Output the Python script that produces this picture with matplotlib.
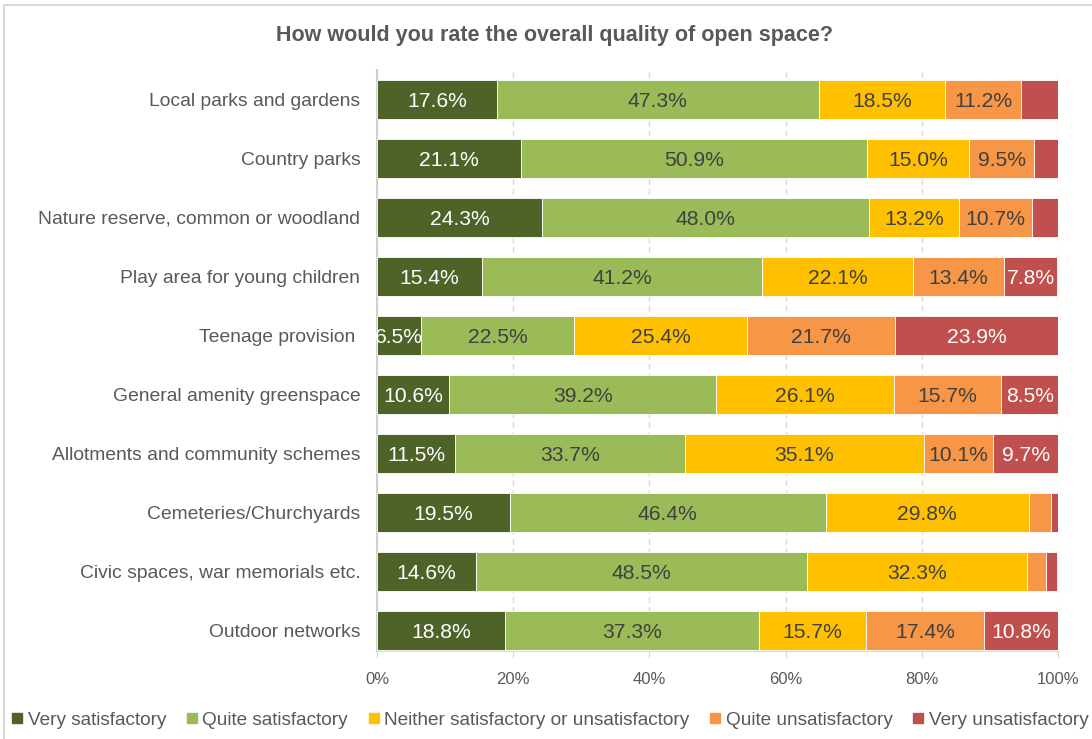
import matplotlib
matplotlib.use("Agg")
import matplotlib.pyplot as plt
from matplotlib.patches import Rectangle
from matplotlib.lines import Line2D
import numpy as np

plt.rcParams['font.family'] = ['Liberation Sans', 'DejaVu Sans']

categories = [
    "Local parks and gardens",
    "Country parks",
    "Nature reserve, common or woodland",
    "Play area for young children",
    "Teenage provision ",
    "General amenity greenspace",
    "Allotments and community schemes",
    "Cemeteries/Churchyards",
    "Civic spaces, war memorials etc.",
    "Outdoor networks",
]

series_names = [
    "Very satisfactory",
    "Quite satisfactory",
    "Neither satisfactory or unsatisfactory",
    "Quite unsatisfactory",
    "Very unsatisfactory",
]

very_satisfactory = [17.6, 21.1, 24.3, 15.4, 6.5, 10.6, 11.5, 19.5, 14.6, 18.8]
quite_satisfactory = [47.3, 50.9, 48.0, 41.2, 22.5, 39.2, 33.7, 46.4, 48.5, 37.3]
neither = [18.5, 15.0, 13.2, 22.1, 25.4, 26.1, 35.1, 29.8, 32.3, 15.7]
quite_unsatisfactory = [11.2, 9.5, 10.7, 13.4, 21.7, 15.7, 10.1, 3.3, 2.9, 17.4]
very_unsatisfactory = [5.4, 3.5, 3.8, 7.8, 23.9, 8.5, 9.7, 1.0, 1.5, 10.8]

series = [very_satisfactory, quite_satisfactory, neither,
          quite_unsatisfactory, very_unsatisfactory]
colors = ["#4f6228", "#9bbb59", "#ffc000", "#f79646", "#c0504d"]
label_colors = ["white", "#404040", "#404040", "#404040", "white"]

W, H = 1092, 739
fig = plt.figure(figsize=(W / 100, H / 100), dpi=100)

ax_top, ax_bot = 70, 651
ax = fig.add_axes([377 / W, 1 - ax_bot / H, (1058 - 377) / W, (ax_bot - ax_top) / H])

y = np.arange(len(categories))
left = np.zeros(len(categories))
for vals, col, tcol in zip(series, colors, label_colors):
    vals = np.array(vals)
    bars = ax.barh(y, vals, left=left, height=0.66, color=col,
                   edgecolor="white", linewidth=0.6, zorder=3)
    for b, v in zip(bars, vals):
        if v >= 6:
            ax.text(b.get_x() + b.get_width() / 2, b.get_y() + b.get_height() / 2,
                    f"{v:.1f}%", ha="center", va="center_baseline", color=tcol,
                    fontsize=15.2, zorder=4)
    left += vals

ax.set_xlim(0, 100)
ax.set_ylim(-0.5 + (ax_bot - ax_top) / 59.0, -0.5)
ax.set_yticks(y)
ax.set_yticklabels(categories, fontsize=13.9, color="#595959")
ax.tick_params(axis="y", length=0, pad=12)
ax.set_xticks(np.arange(0, 101, 20))
ax.set_xticklabels([f"{t}%" for t in range(0, 101, 20)], fontsize=12, color="#595959")
ax.tick_params(axis="x", length=5, color="#d9d9d9", pad=10)
ax.grid(axis="x", color="#d9d9d9", linestyle=(0, (4, 3)), linewidth=1, zorder=0)
for s in ["top", "right"]:
    ax.spines[s].set_visible(False)
ax.spines["left"].set_color("#d0d0d0")
ax.spines["left"].set_linewidth(1.5)
ax.spines["bottom"].set_color("#d9d9d9")

fig.text(555 / W, 1 - 35 / H, "How would you rate the overall quality of open space?",
         ha="center", va="center", fontsize=15.5, fontweight="bold", color="#595959")

handles = [Line2D([], [], marker="s", linestyle="none", markersize=7,
                  markerfacecolor=c, markeredgecolor=c) for c in colors]
fig.legend(handles, series_names, loc="center", bbox_to_anchor=(550 / W, 1 - 720 / H),
           ncol=5, frameon=False, fontsize=13.7, labelcolor="#595959",
           handlelength=0.6, handletextpad=0.25, columnspacing=1.05,
           borderaxespad=0, borderpad=0)

fig.patches.append(Rectangle((4 / W, -0.1), 2, 1 - 5 / H + 0.1, transform=fig.transFigure,
                             fill=False, edgecolor="#d9d9d9", linewidth=1.5))

fig.savefig("out.png", dpi=100)
